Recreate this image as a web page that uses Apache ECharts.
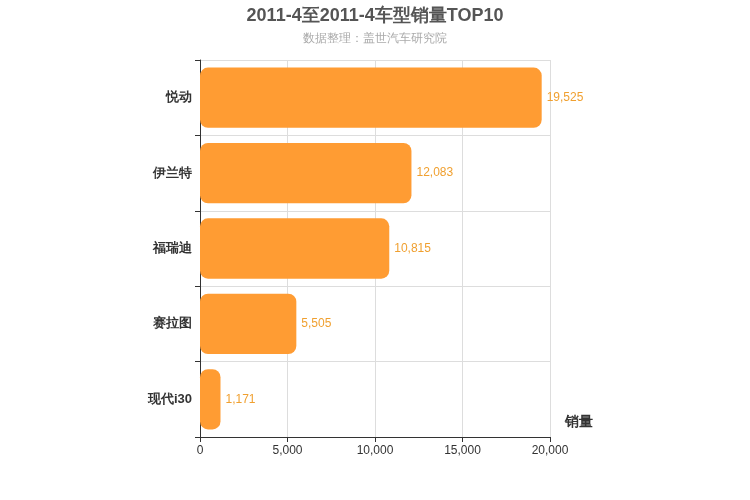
<!DOCTYPE html>
<html>
<head>
<meta charset="utf-8">
<script src="https://cdn.jsdelivr.net/npm/echarts@6/dist/echarts.min.js"></script>
<style>html,body{margin:0;padding:0}#chart{width:750px;height:500px}</style>
</head>
<body>
<div id="chart"></div>
<script>
const models = ['悦动', '伊兰特', '福瑞迪', '赛拉图', '现代i30']
const sales = [19525, 12083, 10815, 5505, 1171]

const chart = echarts.init(document.getElementById('chart'))
chart.setOption({
  title: {
    text: '2011-4至2011-4车型销量TOP10',
    subtext: '数据整理：盖世汽车研究院',
    left: 'center',
    top: 2,
    textStyle: { fontSize: 18, fontWeight: 'bold', color: '#555' },
    subtextStyle: { fontSize: 12, color: '#aaa' },
    itemGap: 8
  },
  grid: { left: 200, right: 200, top: 60, bottom: 63 },
  xAxis: {
    type: 'value',
    min: 0,
    max: 20000,
    interval: 5000,
    name: '销量',
    nameLocation: 'end',
    nameGap: 15,
    nameTextStyle: { fontSize: 14, fontWeight: 'bold', color: '#333', verticalAlign: 'top', padding: [-22, 0, 0, 0] },
    axisLine: { show: true, lineStyle: { color: '#333' } },
    axisTick: { show: true },
    axisLabel: { color: '#333', formatter: v => v.toLocaleString('en-US') },
    splitLine: { show: true, lineStyle: { color: '#ddd' } }
  },
  yAxis: {
    type: 'category',
    data: models,
    inverse: true,
    axisLine: { show: true, lineStyle: { color: '#333' } },
    axisTick: { show: true },
    axisLabel: { color: '#333', fontSize: 13, fontWeight: 'bold' },
    splitLine: { show: true, lineStyle: { color: '#ddd' } }
  },
  series: [{
    type: 'bar',
    data: sales,
    barWidth: '80%',
    itemStyle: { color: '#ff9c33', borderRadius: 8 },
    label: {
      show: true,
      position: 'right',
      color: '#f0a030',
      fontSize: 12,
      formatter: p => p.value.toLocaleString('en-US')
    }
  }]
})
</script>
</body>
</html>
